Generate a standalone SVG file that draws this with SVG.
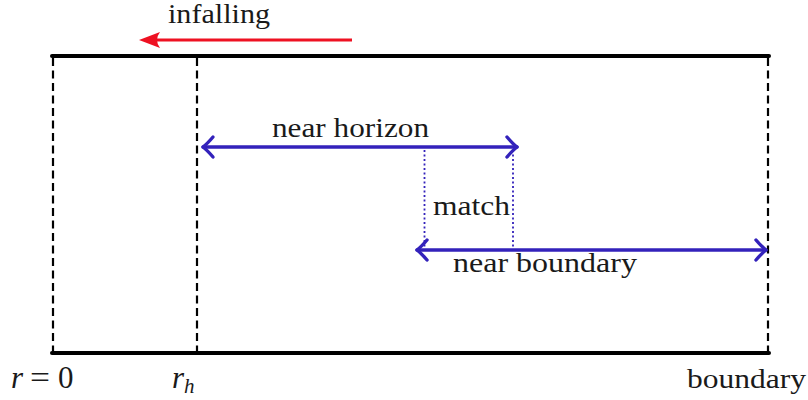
<svg xmlns="http://www.w3.org/2000/svg" width="808" height="400" viewBox="0 0 808 400">
  <style>
    .lbl { font-family: "Liberation Serif", "DejaVu Serif", serif; font-size: 27px; fill: #1a1a1a; }
    .math { font-family: "Liberation Serif", serif; font-size: 31px; fill: #1a1a1a; }
    .wall { stroke: #000; stroke-width: 4; fill: none; stroke-linecap: round; }
    .dash { stroke: #000; stroke-width: 2.2; fill: none; stroke-dasharray: 8 4.5; }
    .blue { stroke: #3322bb; stroke-width: 3.4; fill: none; stroke-linecap: round; stroke-linejoin: round; }
    .dot { stroke: #3322bb; stroke-width: 1.8; fill: none; stroke-dasharray: 2 2.5; }
  </style>

  <!-- region edges -->
  <g id="frame">
    <line class="wall" x1="52" y1="56" x2="769" y2="56"/>
    <line class="wall" x1="52" y1="353" x2="769" y2="353"/>
    <line class="dash" x1="53" y1="58" x2="53" y2="352"/>
    <line class="dash" x1="197" y1="58" x2="197" y2="352"/>
    <line class="dash" x1="768" y1="58" x2="768" y2="352"/>
  </g>

  <g id="connectors">
    <!-- infalling direction -->
    <line x1="352" y1="40" x2="150" y2="40" stroke="#ee1122" stroke-width="3"/>
    <path d="M139,40 L160,32 Q154,40 160,48 Z" fill="#ee1122"/>
    <!-- near horizon span -->
    <line class="blue" x1="203" y1="147" x2="517" y2="147"/>
    <path class="blue" d="M213,137 Q207,144 203,147 Q207,150 213,157"/>
    <path class="blue" d="M507,137 Q513,144 517,147 Q513,150 507,157"/>
    <!-- near boundary span -->
    <line class="blue" x1="417" y1="250" x2="766" y2="250"/>
    <path class="blue" d="M427,240 Q421,247 417,250 Q421,253 427,260"/>
    <path class="blue" d="M756,240 Q762,247 766,250 Q762,253 756,260"/>
    <!-- overlap markers -->
    <line class="dot" x1="424.5" y1="150" x2="424.5" y2="248"/>
    <line class="dot" x1="513" y1="150" x2="513" y2="248"/>
  </g>

  <g id="labels">
    <text class="lbl" x="168" y="23" textLength="102" lengthAdjust="spacingAndGlyphs">infalling</text>
    <text class="lbl" x="272" y="137" textLength="157" lengthAdjust="spacingAndGlyphs">near horizon</text>
    <text class="lbl" x="433" y="215" textLength="77" lengthAdjust="spacingAndGlyphs">match</text>
    <text class="lbl" x="453" y="272" textLength="184" lengthAdjust="spacingAndGlyphs">near boundary</text>
    <text class="lbl" x="687" y="388" textLength="119" lengthAdjust="spacingAndGlyphs">boundary</text>
    <text class="math" x="11" y="388"><tspan font-style="italic">r</tspan><tspan x="30" textLength="20" lengthAdjust="spacingAndGlyphs">=</tspan><tspan x="58">0</tspan></text>
    <text class="math" x="172" y="388"><tspan font-style="italic">r</tspan><tspan font-style="italic" font-size="21" dy="5">h</tspan></text>
  </g>
</svg>
